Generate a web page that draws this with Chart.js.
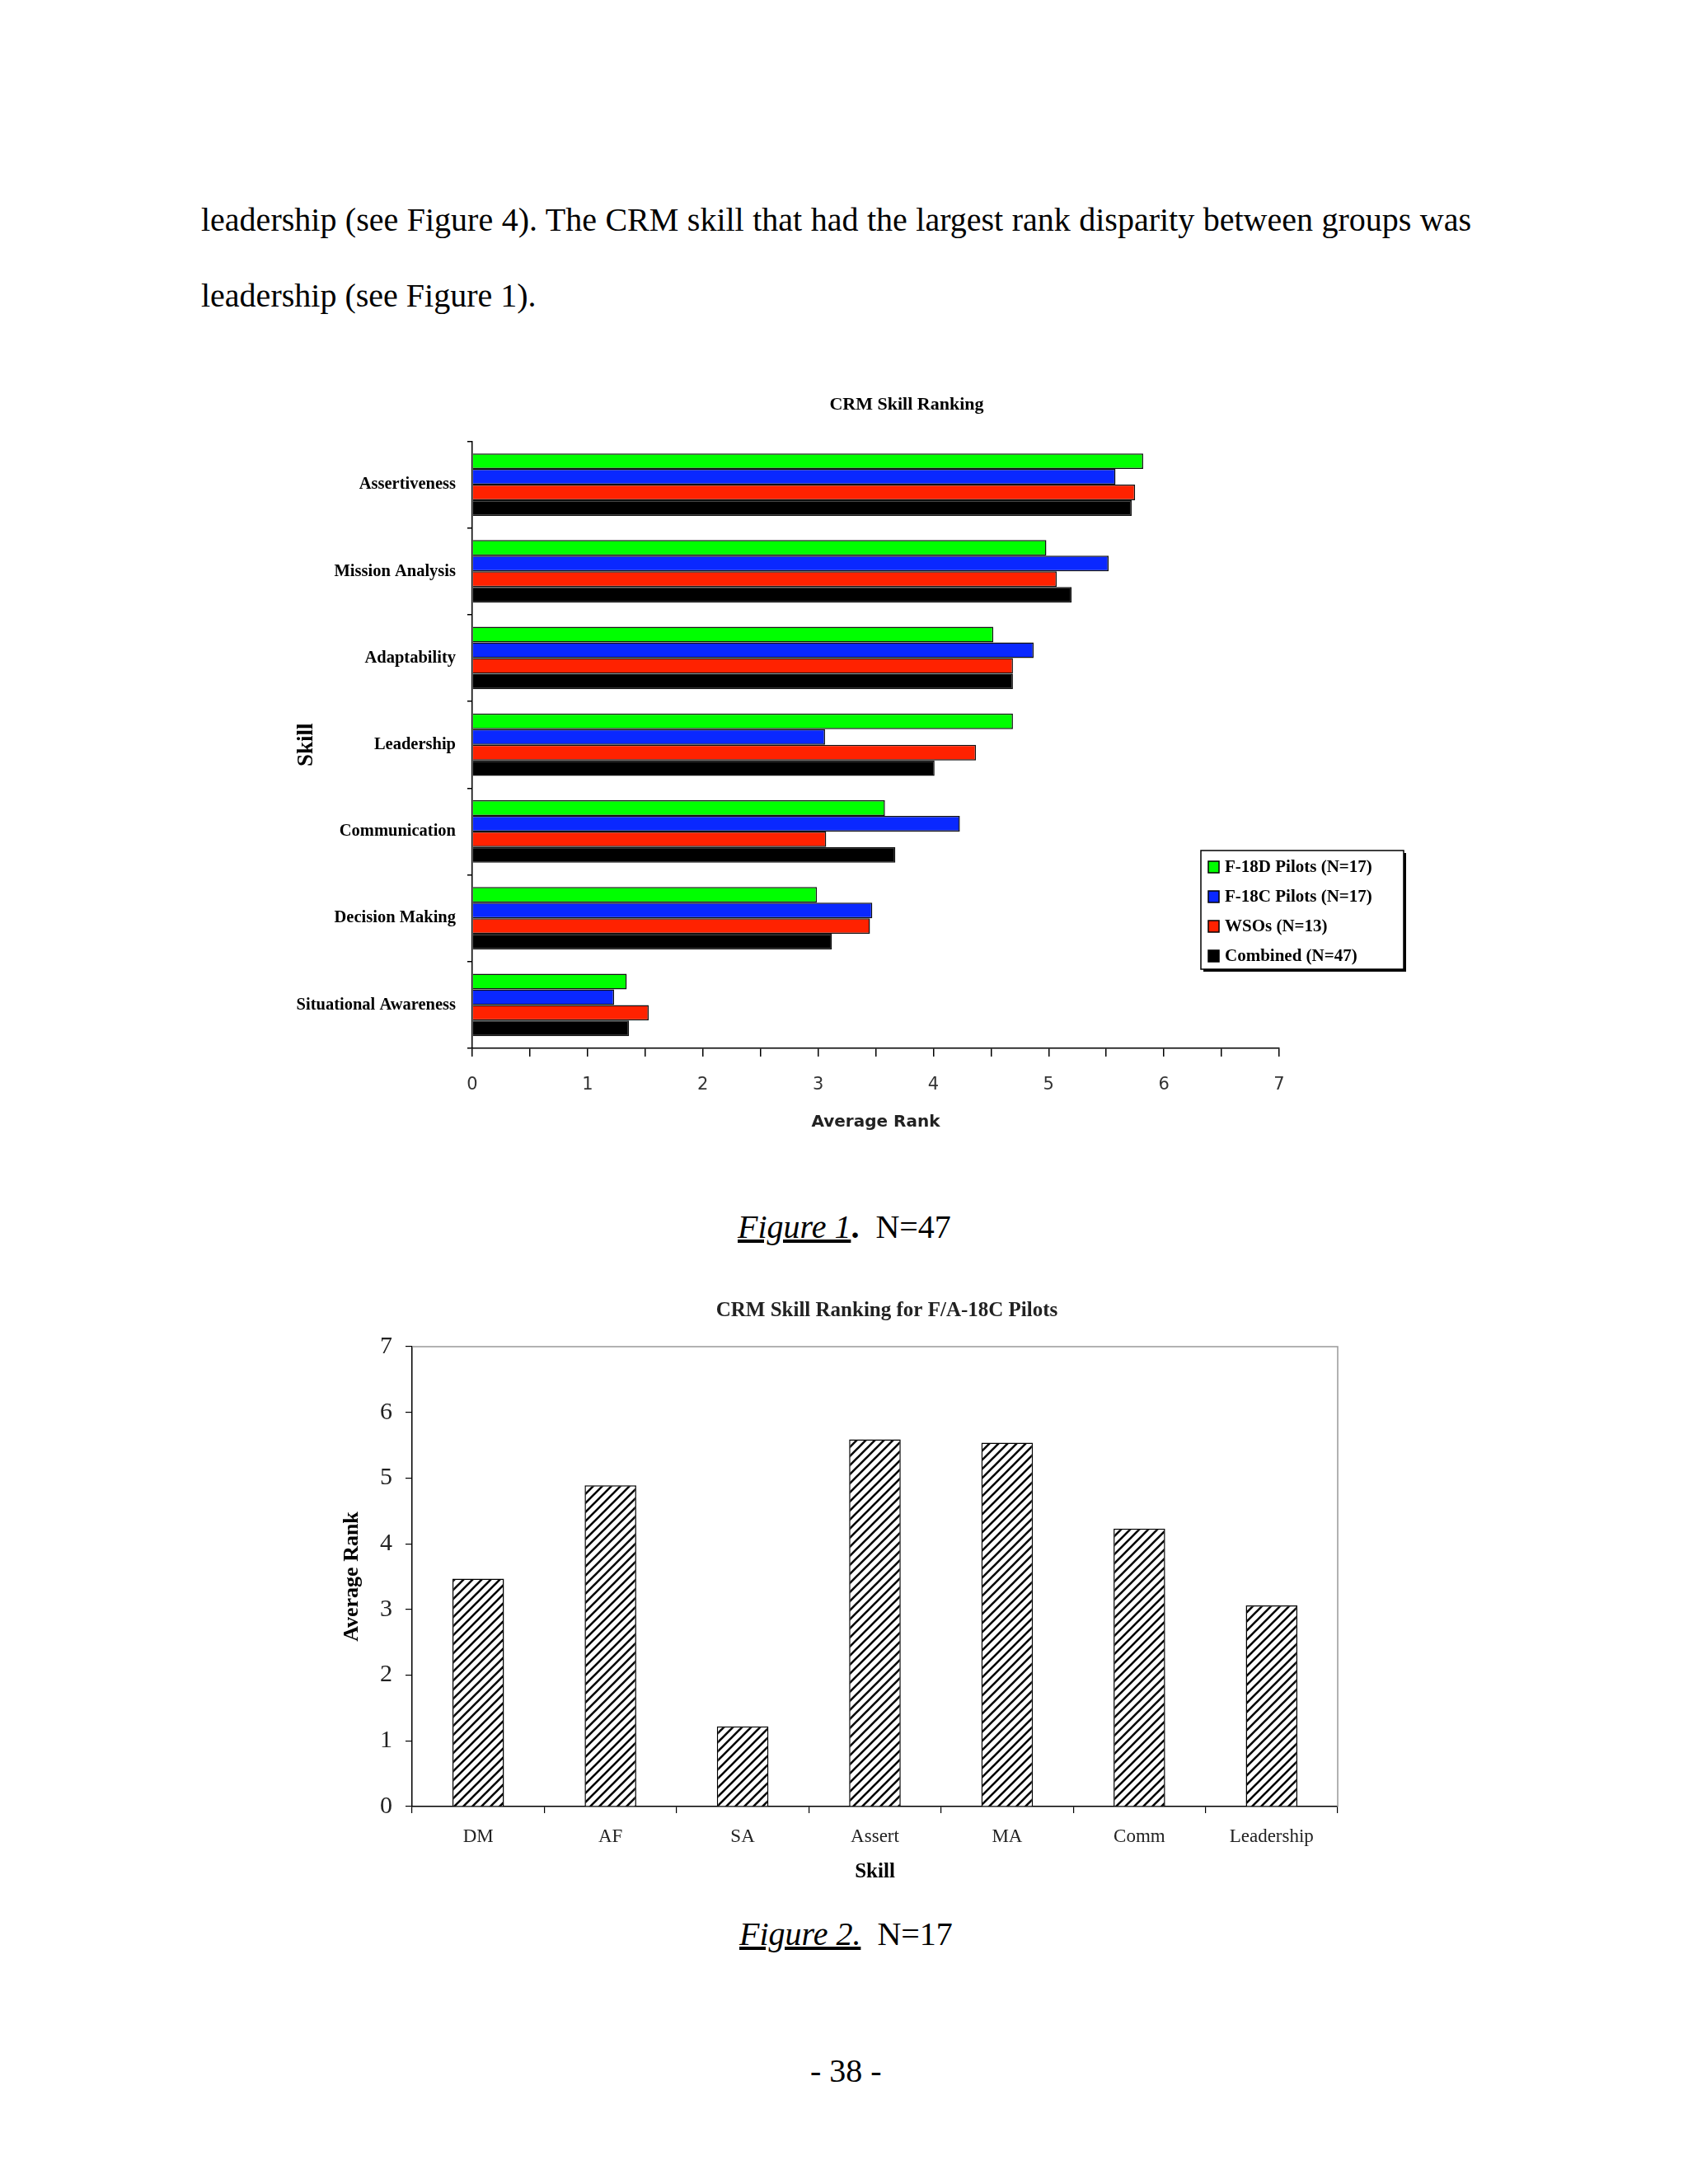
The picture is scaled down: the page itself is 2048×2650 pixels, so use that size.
<!DOCTYPE html>
<html>
<head>
<meta charset="utf-8">
<script src="https://cdn.jsdelivr.net/npm/chart.js@4.4.1/dist/chart.umd.min.js"></script>
<style>
  body { margin: 0; background: #fff; }
  .page { position: relative; width: 2048px; height: 2650px; background: #fff; font-family: 'Liberation Serif', serif; color: #000; }
  .txt { position: absolute; font-size: 40px; line-height: 40px; white-space: nowrap; }
  .just { text-align: justify; text-align-last: justify; white-space: normal; }
  .cap u { font-style: italic; }
  canvas { position: absolute; }
</style>
</head>
<body>
<div class="page">
  <div class="txt just" style="left:244px; top:247px; width:1541px;">leadership (see Figure 4). The CRM skill that had the largest rank disparity between groups was</div>
  <div class="txt" style="left:244px; top:339px;">leadership (see Figure 1).</div>

  <canvas id="rankChart" width="1400" height="940" style="left:340px; top:460px;"></canvas>

  <div class="txt cap" style="left:895px; top:1469px;"><u>Figure 1</u><b>.</b>&nbsp; N=47</div>

  <canvas id="pilotChart" width="1290" height="750" style="left:380px; top:1560px;"></canvas>

  <div class="txt cap" style="left:897px; top:2327px;"><u>Figure 2.</u>&nbsp; N=17</div>

  <div class="txt" style="left:983px; top:2493px;">- 38 -</div>
</div>

<script>
// Figure 1 data
const skills = ['Assertiveness', 'Mission Analysis', 'Adaptability', 'Leadership', 'Communication', 'Decision Making', 'Situational Awareness'];
const groupNames = ['F-18D Pilots (N=17)', 'F-18C Pilots (N=17)', 'WSOs (N=13)', 'Combined (N=47)'];
const f18dRank = [5.82, 4.98, 4.52, 4.69, 3.58, 2.99, 1.34];
const f18cRank = [5.58, 5.52, 4.87, 3.06, 4.23, 3.47, 1.23];
const wsoRank = [5.75, 5.07, 4.69, 4.37, 3.07, 3.45, 1.53];
const combinedRank = [5.72, 5.20, 4.69, 4.01, 3.67, 3.12, 1.36];
const groupColors = ['#00ff00', '#0a28ff', '#ff2200', '#000000'];

// Figure 2 data
const shortSkills = ['DM', 'AF', 'SA', 'Assert', 'MA', 'Comm', 'Leadership'];
const pilotRank = [3.47, 4.89, 1.22, 5.59, 5.54, 4.23, 3.06];
const rankTicks = [0, 1, 2, 3, 4, 5, 6, 7];

Chart.defaults.font.family = "'Liberation Serif', serif";
Chart.defaults.color = '#000';
Chart.defaults.animation = false;

// the titles sit off-centre in the original, so move the title box after layout
const titleSpan = (left, right) => ({
    id: 'titleSpan',
    afterLayout(chart) {
        chart.titleBlock.left = left;
        chart.titleBlock.right = right;
    }
});

// legend with a box and shadow, like the original figure
const boxLegend = {
    id: 'boxLegend',
    afterDraw(chart) {
        const ctx = chart.ctx;
        const x = 1117, y = 572, w = 246, h = 144;
        ctx.save();
        ctx.fillStyle = '#fff';
        ctx.fillRect(x, y, w, h);
        ctx.fillStyle = '#000';
        ctx.fillRect(x + 3, y + h, w, 3);
        ctx.fillRect(x + w, y + 3, 3, h);
        ctx.strokeStyle = '#000';
        ctx.lineWidth = 1.5;
        ctx.strokeRect(x, y, w, h);
        ctx.font = "bold 21px 'Liberation Serif'";
        ctx.textBaseline = 'middle';
        chart.data.datasets.forEach((ds, i) => {
            const cy = y + 20 + i * 36;
            ctx.fillStyle = ds.backgroundColor;
            ctx.fillRect(x + 9, cy - 7, 13, 14);
            ctx.strokeRect(x + 9, cy - 7, 13, 14);
            ctx.fillStyle = '#000';
            ctx.fillText(ds.label, x + 29, cy + 1);
        });
        ctx.restore();
    }
};

new Chart(document.getElementById('rankChart'), {
    type: 'bar',
    data: {
        labels: skills,
        datasets: [
            { label: groupNames[0], data: f18dRank, backgroundColor: groupColors[0] },
            { label: groupNames[1], data: f18cRank, backgroundColor: groupColors[1] },
            { label: groupNames[2], data: wsoRank, backgroundColor: groupColors[2] },
            { label: groupNames[3], data: combinedRank, backgroundColor: groupColors[3] }
        ]
    },
    options: {
        indexAxis: 'y',
        responsive: false,
        devicePixelRatio: 1,
        layout: { padding: { right: 188, left: 0, bottom: 0 } },
        datasets: { bar: { borderColor: '#111', borderWidth: 1.5, categoryPercentage: 0.72, barPercentage: 1 } },
        plugins: {
            legend: { display: false },
            tooltip: { enabled: false },
            title: {
                display: true,
                text: 'CRM Skill Ranking',
                font: { size: 22, weight: 'bold' },
                padding: { top: 18, bottom: 31 }
            }
        },
        scales: {
            x: {
                min: 0, max: 7,
                ticks: {
                    stepSize: 0.5,
                    autoSkip: false,
                    maxRotation: 0,
                    padding: 22,
                    color: '#333',
                    font: { family: "'DejaVu Sans', sans-serif", size: 21 },
                    callback: v => Number.isInteger(v) ? v : ''
                },
                grid: { drawOnChartArea: false, tickLength: 10, color: '#000', lineWidth: 1.5 },
                border: { color: '#000', width: 1.5 },
                title: {
                    display: true,
                    text: 'Average Rank',
                    font: { family: "'DejaVu Sans', sans-serif", size: 20, weight: 'bold' },
                    color: '#222',
                    padding: { top: 0, bottom: 26 }
                },
                afterFit: s => { s.height = 128; }
            },
            y: {
                ticks: { padding: 14, font: { size: 20.5, weight: 'bold' } },
                grid: { drawOnChartArea: false, tickLength: 6, color: '#000', lineWidth: 1.5 },
                border: { color: '#000', width: 1.5 },
                title: {
                    display: true,
                    text: 'Skill',
                    font: { size: 27, weight: 'bold' },
                    padding: { top: 16, bottom: 0 }
                },
                afterFit: s => { s.width = 233; }
            }
        }
    },
    plugins: [boxLegend, titleSpan(0, 1520)]
});

// diagonal hatch fill for the single-series chart
function hatchPattern() {
    const tile = document.createElement('canvas');
    tile.width = 11; tile.height = 11;
    const g = tile.getContext('2d');
    g.fillStyle = '#fff';
    g.fillRect(0, 0, 11, 11);
    g.strokeStyle = '#000';
    g.lineWidth = 2.6;
    g.beginPath();
    g.moveTo(-2, 13); g.lineTo(13, -2);
    g.moveTo(-2, 2); g.lineTo(2, -2);
    g.moveTo(9, 13); g.lineTo(13, 9);
    g.stroke();
    return g.createPattern(tile, 'repeat');
}

const plotFrame = {
    id: 'plotFrame',
    beforeDatasetsDraw(chart) {
        const { ctx, chartArea: a } = chart;
        ctx.save();
        ctx.strokeStyle = '#999';
        ctx.lineWidth = 1.5;
        ctx.beginPath();
        ctx.moveTo(a.left, a.top);
        ctx.lineTo(a.right, a.top);
        ctx.lineTo(a.right, a.bottom);
        ctx.stroke();
        ctx.restore();
    }
};

new Chart(document.getElementById('pilotChart'), {
    type: 'bar',
    data: {
        labels: shortSkills,
        datasets: [{
            label: 'F/A-18C Pilots',
            data: pilotRank,
            backgroundColor: hatchPattern(),
            borderColor: '#000',
            borderWidth: 1.5,
            categoryPercentage: 1,
            barPercentage: 0.39
        }]
    },
    options: {
        responsive: false,
        devicePixelRatio: 1,
        layout: { padding: { right: 47, left: 0, bottom: 0 } },
        plugins: {
            legend: { display: false },
            tooltip: { enabled: false },
            title: {
                display: true,
                text: 'CRM Skill Ranking for F/A-18C Pilots',
                font: { size: 25, weight: 'bold' },
                color: '#222',
                padding: { top: 16, bottom: 28 }
            }
        },
        scales: {
            x: {
                ticks: { padding: 15, color: '#222', font: { size: 23 } },
                grid: { drawOnChartArea: false, tickLength: 8, color: '#000', lineWidth: 1.2 },
                border: { color: '#000', width: 1.5 },
                title: {
                    display: true,
                    text: 'Skill',
                    font: { size: 25, weight: 'bold' },
                    padding: { top: 0, bottom: 23 }
                },
                afterFit: s => { s.height = 118; }
            },
            y: {
                min: 0, max: 7,
                afterBuildTicks: s => { s.ticks = rankTicks.map(v => ({ value: v })); },
                ticks: { padding: 16, color: '#222', font: { size: 30 } },
                grid: { drawOnChartArea: false, tickLength: 8, color: '#000', lineWidth: 1.2 },
                border: { color: '#000', width: 1.5 },
                title: {
                    display: true,
                    text: 'Average Rank',
                    font: { size: 26, weight: 'bold' },
                    padding: { top: 32, bottom: 0 }
                },
                afterFit: s => { s.width = 120; }
            }
        }
    },
    plugins: [plotFrame, titleSpan(0, 1392)]
});
</script>
</body>
</html>
